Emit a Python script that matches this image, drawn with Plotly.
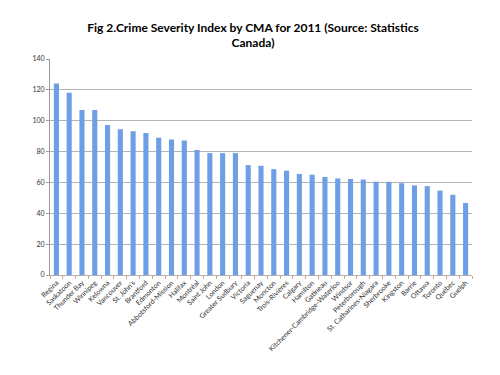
import plotly.graph_objects as go

cities = ["Regina", "Saskatoon", "Thunder Bay", "Winnipeg", "Kelowna", "Vancouver",
          "St. John's", "Brantford", "Edmonton", "Abbotsford-Mission", "Halifax",
          "Montréal", "Saint John", "London", "Greater Sudbury", "Victoria",
          "Saguenay", "Moncton", "Trois-Rivières", "Calgary", "Hamilton", "Gatineau",
          "Kitchener-Cambridge-Waterloo", "Windsor", "Peterborough",
          "St. Catharines-Niagara", "Sherbrooke", "Kingston", "Barrie", "Ottawa",
          "Toronto", "Québec", "Guelph"]
csi = [124.2, 118.2, 107.0, 107.0, 97.2, 94.4, 93.2, 92.0, 89.0, 87.8, 87.2,
       81.0, 79.0, 79.0, 79.0, 71.2, 70.8, 68.6, 67.6, 65.5, 65.0, 63.5,
       62.6, 62.2, 61.9, 60.5, 60.4, 59.5, 58.1, 57.6, 54.7, 52.0, 46.7]
y_ticks = [0, 20, 40, 60, 80, 100, 120, 140]

fig = go.Figure(go.Bar(
    x=cities, y=csi,
    marker=dict(color="#6e9fe4", line=dict(width=0)),
))

fig.update_layout(
    width=500, height=375,
    margin=dict(l=42, r=36, t=51, b=108),
    paper_bgcolor="white", plot_bgcolor="white",
    bargap=0.6,
    showlegend=False,
    title=dict(
        text="Fig 2.Crime Severity Index by CMA for 2011 (Source: Statistics<br>Canada)",
        x=0.49, xanchor="center", y=0.937, yanchor="middle",
        font=dict(family="Lato", size=12, color="black", weight="bold"),
    ),
    font=dict(family="Lato", size=7, color="#333333"),
)
fig.update_yaxes(
    range=[0, 140], tickvals=y_ticks, showgrid=True, gridcolor="#b4b4b4",
    gridwidth=1, showline=True, linecolor="#9a9a9a", ticks="outside",
    ticklen=3, tickcolor="#9a9a9a", zeroline=False, automargin=False,
    tickfont=dict(size=7, color="#333333"),
)
fig.update_xaxes(
    tickangle=-45, showline=True, linecolor="#b0b0b0", ticks="outside",
    ticklen=3, tickcolor="#d9a27a", tickson="boundaries", automargin=False,
    tickfont=dict(size=7, color="#333333"),
)

fig.write_html("out.html")
